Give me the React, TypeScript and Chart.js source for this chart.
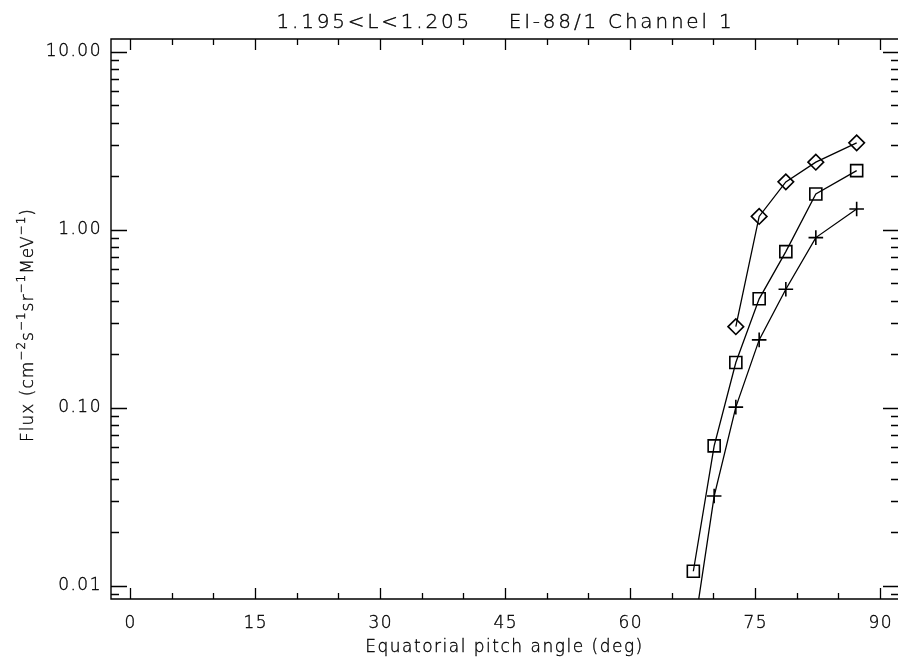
import React, { useEffect, useRef } from 'react';
import { Chart, registerables } from 'chart.js';

Chart.register(...registerables);

// ---- data ----
const pitchAngles = [67.6, 70.1, 72.7, 75.5, 78.7, 82.3, 87.2];
const diamondAngles = [72.7, 75.5, 78.7, 82.3, 87.2];
const diamondFlux = [0.286, 1.19, 1.86, 2.4, 3.08];
const squareFlux = [0.0121, 0.0612, 0.18, 0.41, 0.755, 1.59, 2.15];
const crossFlux = [0.0053, 0.032, 0.101, 0.241, 0.464, 0.905, 1.31];
const xMajorTicks = [0, 15, 30, 45, 60, 75, 90];
const xMinorStep = 5;
const yTickValues = [0.01, 0.1, 1, 10];
const yTickLabels = ['0.01', '0.10', '1.00', '10.00'];
const titleText = '1.195<L<1.205    EI-88/1 Channel 1';
const xTitle = 'Equatorial pitch angle (deg)';
const yTitleParts: [string, boolean][] = [
  ['Flux (cm', false], ['\u22122', true], ['s', false], ['\u22121', true],
  ['sr', false], ['\u22121', true], ['MeV', false], ['\u22121', true], [')', false],
];

const FONT = '"DejaVu Sans", sans-serif';
const INK = '#000';

const framePlugin = {
  id: 'idlFrame',
  beforeDraw(chart: any) {
    (chart.ctx as any).letterSpacing = '1.5px';
  },
  afterDraw(chart: any) {
    const { ctx, chartArea: a, scales } = chart;
    const xs = scales.x;
    const ys = scales.y;
    ctx.save();
    ctx.strokeStyle = '#000';
    ctx.lineWidth = 1.4;
    ctx.beginPath();
    ctx.rect(a.left, a.top, a.right + 1 - a.left, a.bottom - a.top);
    ctx.stroke();
    // x ticks
    ctx.lineWidth = 1.3;
    ctx.beginPath();
    for (let v = 0; v <= 90; v += xMinorStep) {
      const px = Math.round(xs.getPixelForValue(v)) + 0.5;
      const len = xMajorTicks.includes(v) ? 11 : 6;
      ctx.moveTo(px, a.bottom);
      ctx.lineTo(px, a.bottom - len);
      ctx.moveTo(px, a.top);
      ctx.lineTo(px, a.top + len);
    }
    // y ticks
    for (let d = -3; d <= 1; d++) {
      for (let m = 1; m <= 9; m++) {
        const v = m * Math.pow(10, d);
        if (v < ys.min || v > ys.max) continue;
        const py = Math.round(ys.getPixelForValue(v)) + 0.5;
        const major = m === 1;
        ctx.moveTo(a.left, py);
        ctx.lineTo(a.left + (major ? 16 : 8), py);
        ctx.moveTo(a.right, py);
        ctx.lineTo(a.right - (major ? 15 : 7), py);
      }
    }
    ctx.stroke();

    const drawText = (t: string, x: number, y: number) => {
      ctx.strokeText(t, x, y);
      ctx.fillText(t, x, y);
    };
    ctx.fillStyle = INK;
    ctx.strokeStyle = INK;
    ctx.lineWidth = 0.35;

    // x tick labels
    (ctx as any).letterSpacing = '1.5px';
    ctx.font = `200 17px ${FONT}`;
    ctx.textAlign = 'center';
    ctx.textBaseline = 'alphabetic';
    for (const v of xMajorTicks) {
      drawText(String(v), xs.getPixelForValue(v) + 0.75, 628);
    }

    // titles
    (ctx as any).letterSpacing = '2.8px';
    ctx.font = `200 20px ${FONT}`;
    drawText(titleText, (a.left + a.right) / 2 + 1, 27.5);
    (ctx as any).letterSpacing = '1.5px';
    ctx.font = `200 17px ${FONT}`;
    drawText(xTitle, (a.left + a.right) / 2, 652);

    // y title with superscripts
    const baseFont = `200 17px ${FONT}`;
    const supFont = `200 12px ${FONT}`;
    (ctx as any).letterSpacing = '1px';
    let total = 0;
    for (const [t, sup] of yTitleParts) {
      ctx.font = sup ? supFont : baseFont;
      total += ctx.measureText(t).width;
    }
    ctx.translate(33, 325);
    ctx.rotate(-Math.PI / 2);
    ctx.textAlign = 'left';
    let x = -total / 2;
    for (const [t, sup] of yTitleParts) {
      ctx.font = sup ? supFont : baseFont;
      drawText(t, x, sup ? -8 : 0);
      x += ctx.measureText(t).width;
    }
    ctx.restore();
  },
};

export default function App() {
  const ref = useRef<HTMLCanvasElement | null>(null);
  useEffect(() => {
    if (!ref.current) return;
    const lineDs = (label: string, xsArr: number[], ysArr: number[], style: string, r: number) => ({
      label,
      data: xsArr.map((x, i) => ({ x, y: ysArr[i] })),
      borderColor: '#000',
      borderWidth: 1.3,
      pointStyle: style,
      pointRadius: r,
      pointBorderWidth: 1.6,
      pointBorderColor: '#000',
      pointBackgroundColor: 'rgba(0,0,0,0)',
      showLine: true,
      tension: 0,
    });
    const chart = new Chart(ref.current, {
      type: 'scatter',
      data: {
        datasets: [
          lineDs('diamond', diamondAngles, diamondFlux, 'rectRot', 7.8),
          lineDs('square', pitchAngles, squareFlux, 'rect', 8.5),
          lineDs('cross', pitchAngles, crossFlux, 'cross', 7.3),
        ] as any,
      },
      options: {
        responsive: false,
        animation: false,
        events: [],
        layout: { autoPadding: false, padding: { top: 39, right: 0, left: 0, bottom: 0 } },
        plugins: { legend: { display: false }, tooltip: { enabled: false }, title: { display: false } },
        scales: {
          x: {
            type: 'linear',
            min: -2.28,
            max: 92.16,
            grid: { display: false, drawTicks: false },
            border: { display: false },
            afterBuildTicks: (s: any) => { s.ticks = xMajorTicks.map((v) => ({ value: v })); },
            afterFit: (s: any) => { s.height = 63; s.paddingLeft = 0; s.paddingRight = 0; },
            ticks: { display: false },
          },
          y: {
            type: 'logarithmic',
            min: 0.00845,
            max: 11.8,
            grid: { display: false, drawTicks: false },
            border: { display: false },
            afterBuildTicks: (s: any) => { s.ticks = yTickValues.map((v) => ({ value: v })); },
            afterFit: (s: any) => { s.width = 111; s.paddingTop = 0; s.paddingBottom = 0; },
            ticks: {
              autoSkip: false,
              padding: 9,
              color: INK,
              textStrokeColor: INK,
              textStrokeWidth: 0.35,
              font: { family: FONT, size: 17, weight: '200' },
              callback: (v: any) => yTickLabels[yTickValues.findIndex((t) => Math.abs(t - v) < t * 1e-6)] ?? '',
            },
          },
        },
      } as any,
      plugins: [framePlugin],
    });
    return () => chart.destroy();
  }, []);
  return (
    <div style={{ position: 'absolute', left: 0, top: 0, width: 898, height: 662, background: '#fff' }}>
      <canvas ref={ref} width={898} height={662} style={{ display: 'block' }} />
    </div>
  );
}
